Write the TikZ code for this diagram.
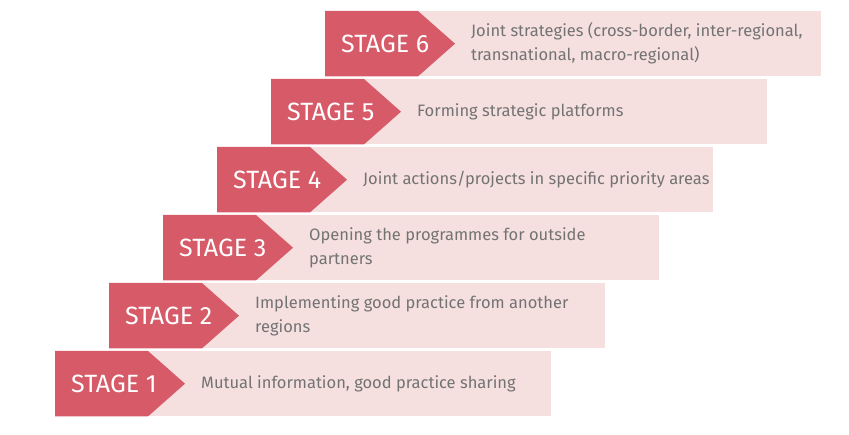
\documentclass[tikz,border=0pt]{standalone}
\usepackage{fontspec}
\setmainfont{Fira Sans}
\usetikzlibrary{calc}
\definecolor{stagered}{RGB}{214,90,103}
\definecolor{stagepink}{RGB}{246,223,223}
\definecolor{stagetext}{RGB}{115,115,115}
\begin{document}
\begin{tikzpicture}[x=1pt,y=1pt,
  bar/.style={fill=stagepink,draw=none,minimum width=496pt,minimum height=65pt,inner sep=0pt,anchor=north west,rectangle},
  stagelbl/.style={text=white,font=\fontsize{25}{28}\selectfont,inner sep=0pt,anchor=west},
  desc/.style={text=stagetext,font=\fontsize{16.5}{24}\selectfont,inner sep=0pt,anchor=west,align=left}]
\useasboundingbox (0,0) rectangle (849,-435);
\foreach \i/\txt in {1/{Mutual information, good practice sharing},
                     2/{Implementing good practice from another\\regions},
                     3/{Opening the programmes for outside\\partners},
                     4/{Joint actions/projects in specific priority areas},
                     5/{Forming strategic platforms},
                     6/{Joint strategies (cross-border, inter-regional,\\transnational, macro-regional)}}{
  \pgfmathsetmacro{\xl}{55+54*(\i-1)}
  \pgfmathsetmacro{\yt}{-351+68*(\i-1)}
  \node[bar] (b\i) at (\xl,\yt) {};
  \fill[stagered] (b\i.north west) -- ++(93,0) -- ($(b\i.west)+(130,0)$) -- ($(b\i.south west)+(93,0)$) -- (b\i.south west) -- cycle;
  \node[stagelbl] (s\i) at ($(b\i.west)+(16,0)$) {STAGE \i};
  \node[desc] (d\i) at ($(b\i.west)+(146,0)$) {\txt};
}
\end{tikzpicture}
\end{document}
